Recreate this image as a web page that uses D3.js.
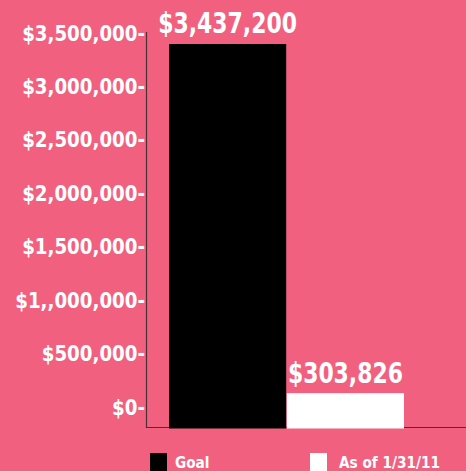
<!DOCTYPE html>
<html>
<head>
<meta charset="utf-8">
<script src="https://cdn.jsdelivr.net/npm/d3@7"></script>
<style>
  html, body { margin: 0; padding: 0; background: #f1617f; }
  svg { display: block; }
  text { font-family: "DejaVu Sans Condensed", "DejaVu Sans", sans-serif; font-weight: bold; fill: #fff; }
</style>
</head>
<body>
<svg id="chart"></svg>
<script>
var categories = ["Goal", "As of 1/31/11"];
var values = [3437200, 303826];
var valueLabels = ["$3,437,200", "$303,826"];
var barColors = ["#000000", "#ffffff"];
var tickValues = [0, 500000, 1000000, 1500000, 2000000, 2500000, 3000000, 3500000];
var tickLabels = ["$0-", "$500,000-", "$1,,000,000-", "$1,500,000-", "$2,000,000-", "$2,500,000-", "$3,000,000-", "$3,500,000-"];

var width = 466, height = 471;

var svg = d3.select('#chart')
  .attr('width', width)
  .attr('height', height);

var x = d3.scaleBand().domain(categories)
  .range([169, 404])
  .paddingInner(0.005);

// bars sit on the bottom line
var y = d3.scaleLinear().domain([0, 3500000])
  .range([427, 37]);

// tick labels in the original are placed on their own grid
var yLabel = d3.scaleLinear().domain([0, 3500000])
  .range([407, 33]);

// axis lines
svg.append("line")
  .attr("x1", 146.5).attr("x2", 146.5)
  .attr("y1", 32).attr("y2", 428)
  .attr("stroke", "#4a3036").attr("stroke-width", 1.2);

svg.append("line")
  .attr("x1", 146).attr("x2", width)
  .attr("y1", 427.5).attr("y2", 427.5)
  .attr("stroke", "#4a3036").attr("stroke-width", 1.2);

svg.selectAll("tickLabels")
  .data(tickValues)
  .enter()
  .append("text")
    .attr("transform", function(d) { return "translate(145," + (yLabel(d) + 7.5) + ") scale(0.965,1)" })
    .attr("text-anchor", "end")
    .style("font-size", "21px")
    .text(function(d, i) { return tickLabels[i] });

svg.selectAll("bars")
  .data(values)
  .enter()
  .append("rect")
    .attr("x", function(d, i) { return x(categories[i]) })
    .attr("y", function(d) { return y(d) })
    .attr("width", x.bandwidth())
    .attr("height", function(d) { return y(0) - y(d) + 1.5 })
    .attr("fill", function(d, i) { return barColors[i] });

svg.selectAll("valueLabels")
  .data(values)
  .enter()
  .append("text")
    .attr("transform", function(d, i) {
      return "translate(" + (x(categories[i]) + x.bandwidth() / 2) + "," + (y(d) - 10.5) + ") scale(0.87,1)"
    })
    .attr("text-anchor", "middle")
    .style("font-size", "28px")
    .text(function(d, i) { return valueLabels[i] });

// legend
var legendX = [150, 310];
var legend = svg.selectAll("legend")
  .data(categories)
  .enter()
  .append("g")
    .attr("transform", function(d, i) { return "translate(" + legendX[i] + ",453)" });

legend.append("rect")
  .attr("width", 17)
  .attr("height", 20)
  .attr("fill", function(d, i) { return barColors[i] });

legend.append("text")
  .attr("transform", function(d, i) { return "translate(" + (i == 0 ? 25 : 29) + ",14.5) scale(0.92,1)" })
  .style("font-size", "16.5px")
  .text(function(d) { return d });
</script>
</body>
</html>
